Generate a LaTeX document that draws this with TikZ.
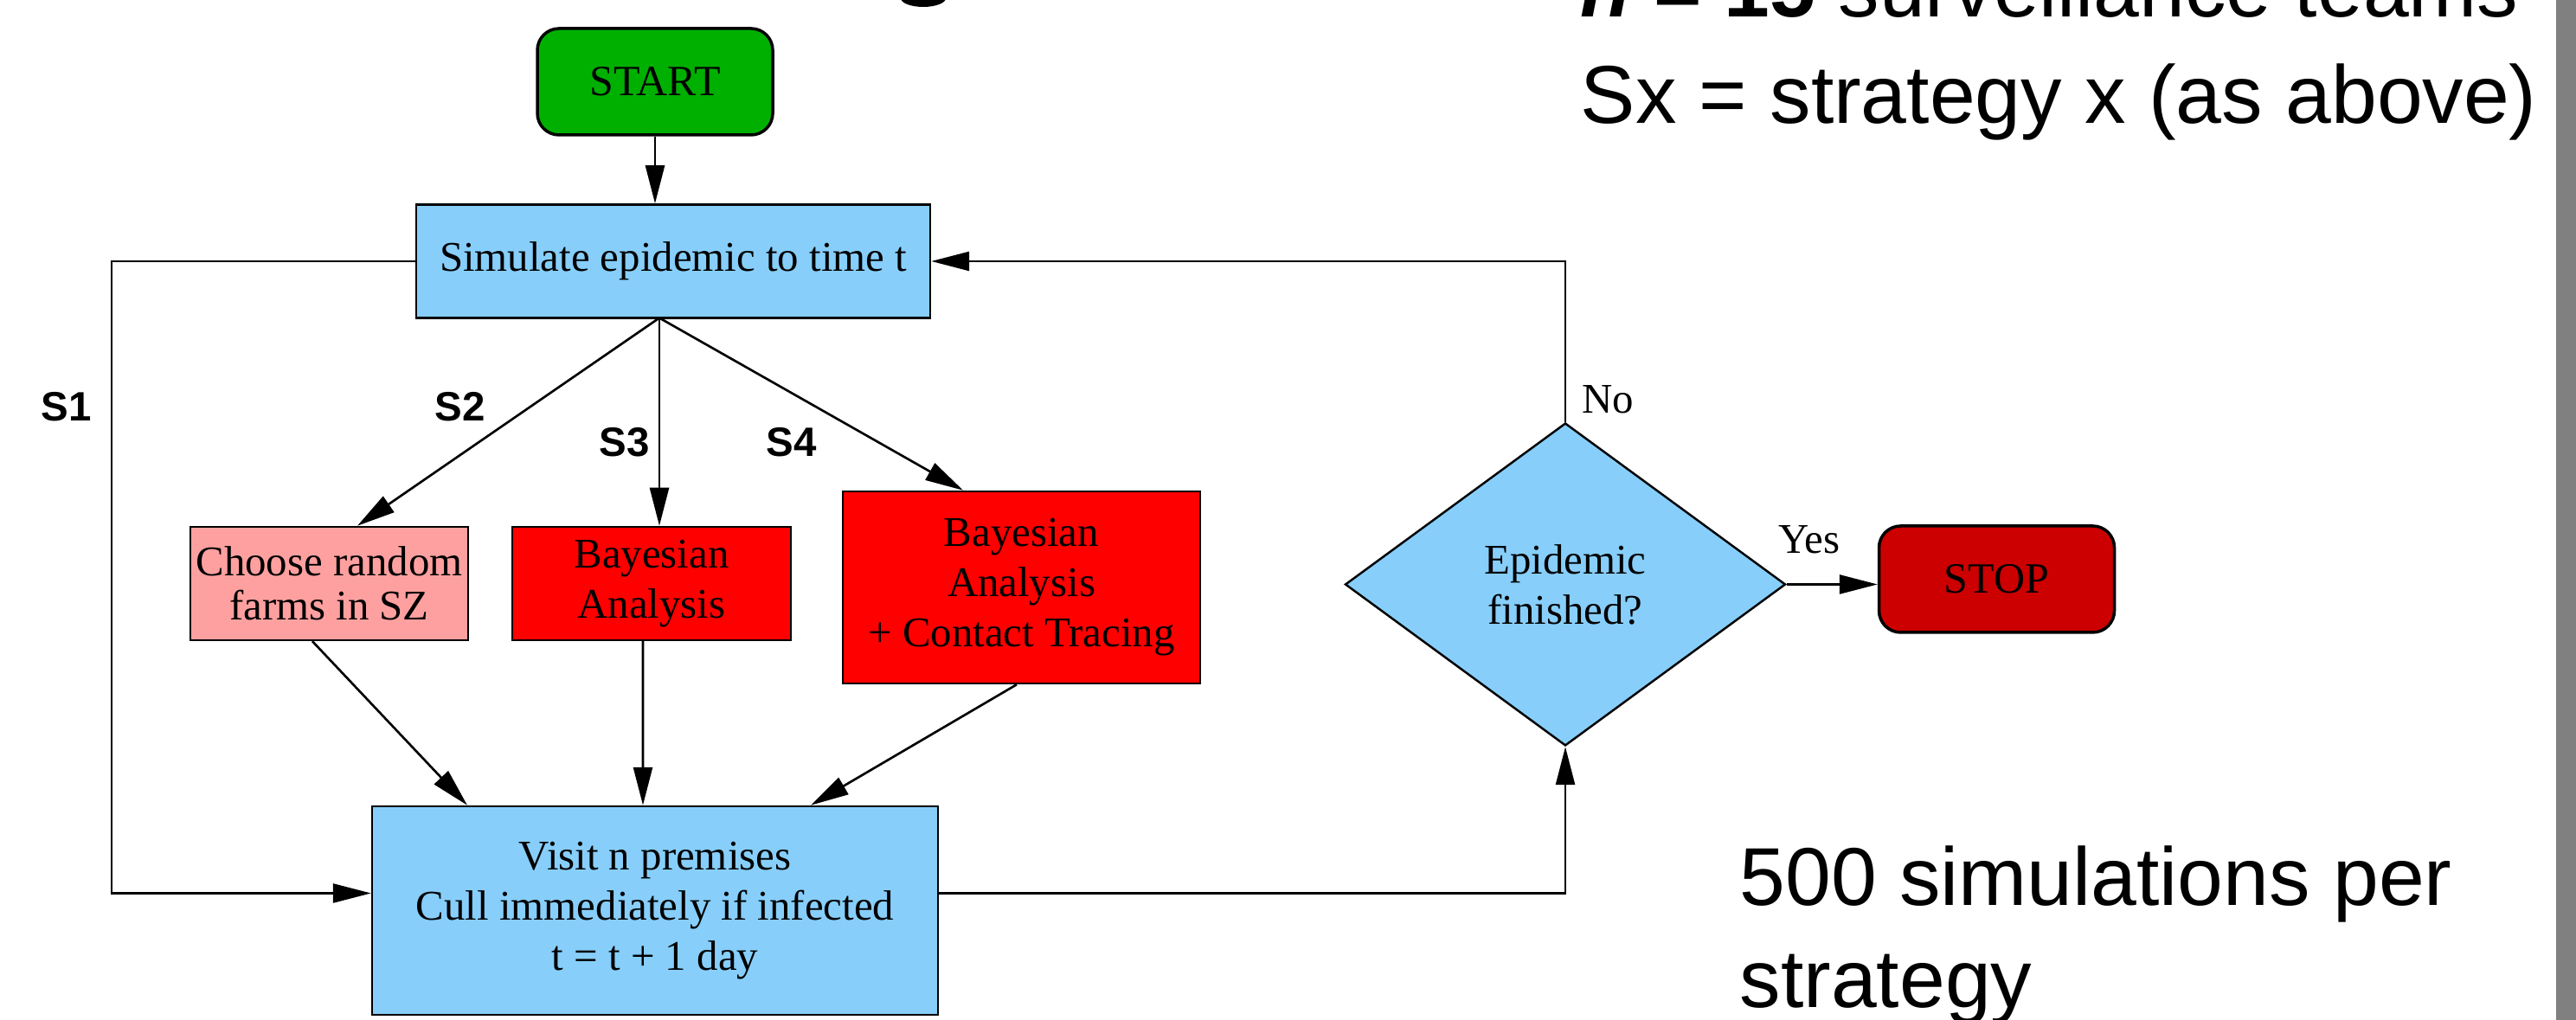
\documentclass[tikz,border=0pt]{standalone}
\usepackage{fontspec}
\setmainfont{Liberation Serif}
\setsansfont{Liberation Sans}
\usepackage{tikz}
\usetikzlibrary{shapes.geometric}
\usetikzlibrary{arrows.meta}

\definecolor{startgreen}{RGB}{0,176,0}
\definecolor{procblue}{RGB}{135,206,250}
\definecolor{rndpink}{RGB}{255,160,160}
\definecolor{stopred}{RGB}{204,0,0}
\definecolor{bargray}{RGB}{128,128,128}

\begin{document}
\begin{tikzpicture}
  \tikzset{TERM/.style={draw, line width=1pt, rounded corners=2.5mm, minimum height=1.23cm, minimum width=2.72cm, font=\fontsize{14.2}{16.5}\selectfont} }
  \tikzset{BOX/.style={draw, line width=0.7pt, align=center, inner sep=0pt, font=\fontsize{13.9}{16.5}\selectfont} }
  \tikzset{DEC/.style={draw, diamond, line width=0.7pt, align=center, inner sep=0pt, minimum width=5.09cm, minimum height=3.73cm, font=\fontsize{13.9}{16.5}\selectfont} }
  \tikzset{LBL/.style={font=\sffamily\bfseries\fontsize{13.5}{16}\selectfont} }
  \tikzset{TXT/.style={font=\fontsize{13.9}{16.5}\selectfont} }
  \tikzset{BIG/.style={anchor=base west, inner sep=0pt, align=left, font=\sffamily\fontsize{27}{33.6}\selectfont} }
  \tikzset{LINE/.style={line width=0.75pt, ->, >={Triangle[length=4.4mm, width=2.2mm]}} }

  \useasboundingbox (0,0) rectangle (29.77,11.79);
  \clip (0,0) rectangle (29.77,11.79);

  \node[TERM, fill=startgreen] (start) at (7.57, 10.845) {START};
  \node[BOX, fill=procblue, minimum width=5.94cm, minimum height=1.31cm] (sim) at (7.78, 8.77) {Simulate epidemic to time t};

  \node[BOX, fill=rndpink, minimum width=3.21cm, minimum height=1.31cm, font=\fontsize{13.9}{14.5}\selectfont] (rnd) at (3.805, 5.045) {Choose random\\farms in SZ};
  \node[BOX, fill=red, minimum width=3.22cm, minimum height=1.31cm] (bay) at (7.53, 5.045) {Bayesian\\Analysis};
  \node[BOX, fill=red, minimum width=4.13cm, minimum height=2.22cm] (bayct) at (11.805, 5.00) {Bayesian\\Analysis\\+ Contact Tracing};

  \node[BOX, fill=procblue, minimum width=6.54cm, minimum height=2.41cm] (visit) at (7.57, 1.265) {Visit n premises\\Cull immediately if infected\\t = t + 1 day};

  \node[DEC, fill=procblue] (fin) at (18.09, 5.035) {Epidemic\\finished?};
  \node[TERM, fill=stopred] (stop) at (23.075, 5.095) {STOP};

  \coordinate (fork) at (7.62, 8.115);

  \node[LBL] (s1) at (0.77, 7.09) {S1};
  \node[LBL] (s2) at (5.32, 7.09) {S2};
  \node[LBL] (s3) at (7.22, 6.68) {S3};
  \node[LBL] (s4) at (9.15, 6.68) {S4};
  \node[TXT] (no) at (18.58, 7.17) {No};
  \node[TXT] (yes) at (20.91, 5.55) {Yes};

  \draw[LINE] (start.south) -- (start.south |- sim.north);
  \draw[LINE] (fork) -- ([xshift=3.25mm]rnd.north);
  \draw[LINE] (fork) -- (fork |- bay.north);
  \draw[LINE] (fork) -- ([xshift=-6.75mm]bayct.north);

  \draw[LINE] ([xshift=-1.95mm]rnd.south) -- ([xshift=-21.7mm]visit.north);
  \draw[LINE] ([xshift=-1mm]bay.south) -- ([xshift=-1.4mm]visit.north);
  \draw[LINE] ([xshift=-0.55mm]bayct.south) -- ([xshift=18mm]visit.north);

  \draw[LINE] (sim.west) -- (1.29, 8.77) |- ([yshift=2mm]visit.west);
  \draw[LINE] ([yshift=2mm]visit.east) -| (fin.south);
  \draw[LINE] (fin.north) |- (sim.east);
  \draw[LINE] (fin.east) -- (fin.east -| stop.west);

  \node[BIG, font=\sffamily\fontsize{27}{35}\selectfont] (teams) at (18.26, 10.36) {\textbf{\textit{n} = 15} surveillance teams\\Sx = strategy x (as above)};
  \node[BIG] (runs) at (20.10, 0.14) {500 simulations per\\strategy};

  \fill (10.67, 11.81) ellipse (0.26cm and 0.10cm);
  \fill[bargray] (29.54, 0) rectangle (29.77, 11.79);
\end{tikzpicture}
\end{document}
